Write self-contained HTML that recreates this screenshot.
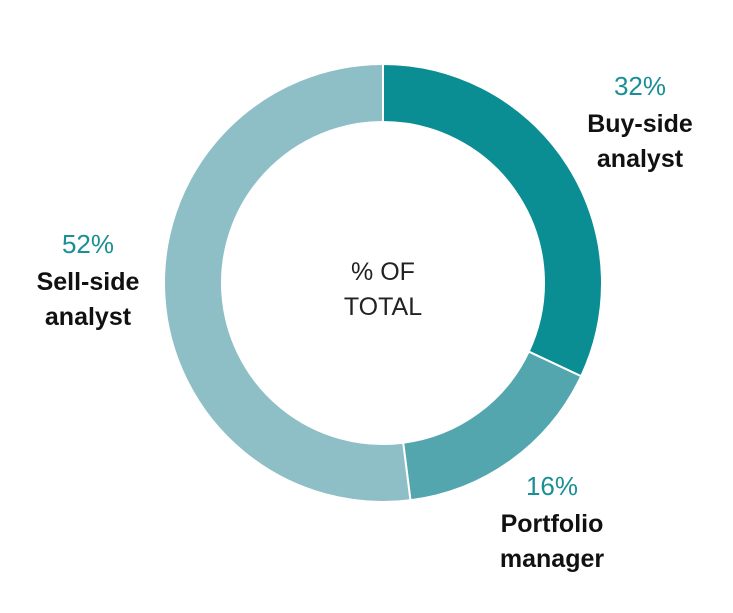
<!DOCTYPE html>
<html><head><meta charset="utf-8"><style>
html,body{margin:0;padding:0;background:#fff;}
svg{display:block;font-family:"Liberation Sans",sans-serif;}
</style></head><body>
<svg id="chart" width="733" height="613">
<g id="slices"></g>
<text x="383" y="280" text-anchor="middle" font-size="25" fill="#222">% OF</text>
<text x="383" y="315" text-anchor="middle" font-size="25" fill="#222">TOTAL</text>
<g id="labels"></g>
</svg>
<script>
const categories = ["Buy-side analyst", "Portfolio manager", "Sell-side analyst"];
const values = [32, 16, 52];
const colors = ["#0b8d94", "#53a6ae", "#8fbfc6"];
const labelLines = [["Buy-side","analyst"],["Portfolio","manager"],["Sell-side","analyst"]];
const labelPos = [[640,95],[552,495],[88,253]];
const cx=383, cy=283, R=219, r=161;
const NS="http://www.w3.org/2000/svg";
const total = values.reduce((a,b)=>a+b,0);
function pt(a,rad){return [cx+rad*Math.sin(a), cy-rad*Math.cos(a)];}
let start=0;
const g=document.getElementById('slices');
const lg=document.getElementById('labels');
values.forEach((v,i)=>{
  const end=start+v/total*2*Math.PI;
  const large=(end-start)>Math.PI?1:0;
  const [x1,y1]=pt(start,R),[x2,y2]=pt(end,R),[x3,y3]=pt(end,r),[x4,y4]=pt(start,r);
  const p=document.createElementNS(NS,'path');
  p.setAttribute('d',`M${x1},${y1}A${R},${R} 0 ${large} 1 ${x2},${y2}L${x3},${y3}A${r},${r} 0 ${large} 0 ${x4},${y4}Z`);
  p.setAttribute('fill',colors[i]);
  p.setAttribute('stroke','#fff');
  p.setAttribute('stroke-width','2');
  
  
  g.appendChild(p);
  const [lx,ly]=labelPos[i];
  const t=document.createElementNS(NS,'text');
  t.setAttribute('x',lx);t.setAttribute('y',ly);
  t.setAttribute('text-anchor','middle');t.setAttribute('font-size','26');
  t.setAttribute('fill','#1b8f96');
  t.textContent=v+'%';
  
  
  lg.appendChild(t);
  labelLines[i].forEach((s,j)=>{
    const tt=document.createElementNS(NS,'text');
    tt.setAttribute('x',lx);tt.setAttribute('y',ly+37+j*35);
    tt.setAttribute('text-anchor','middle');tt.setAttribute('font-size','25');
    tt.setAttribute('font-weight','bold');tt.setAttribute('fill','#111');
    tt.textContent=s;
    
    
    lg.appendChild(tt);
  });
  start=end;
});
</script>
</body></html>
